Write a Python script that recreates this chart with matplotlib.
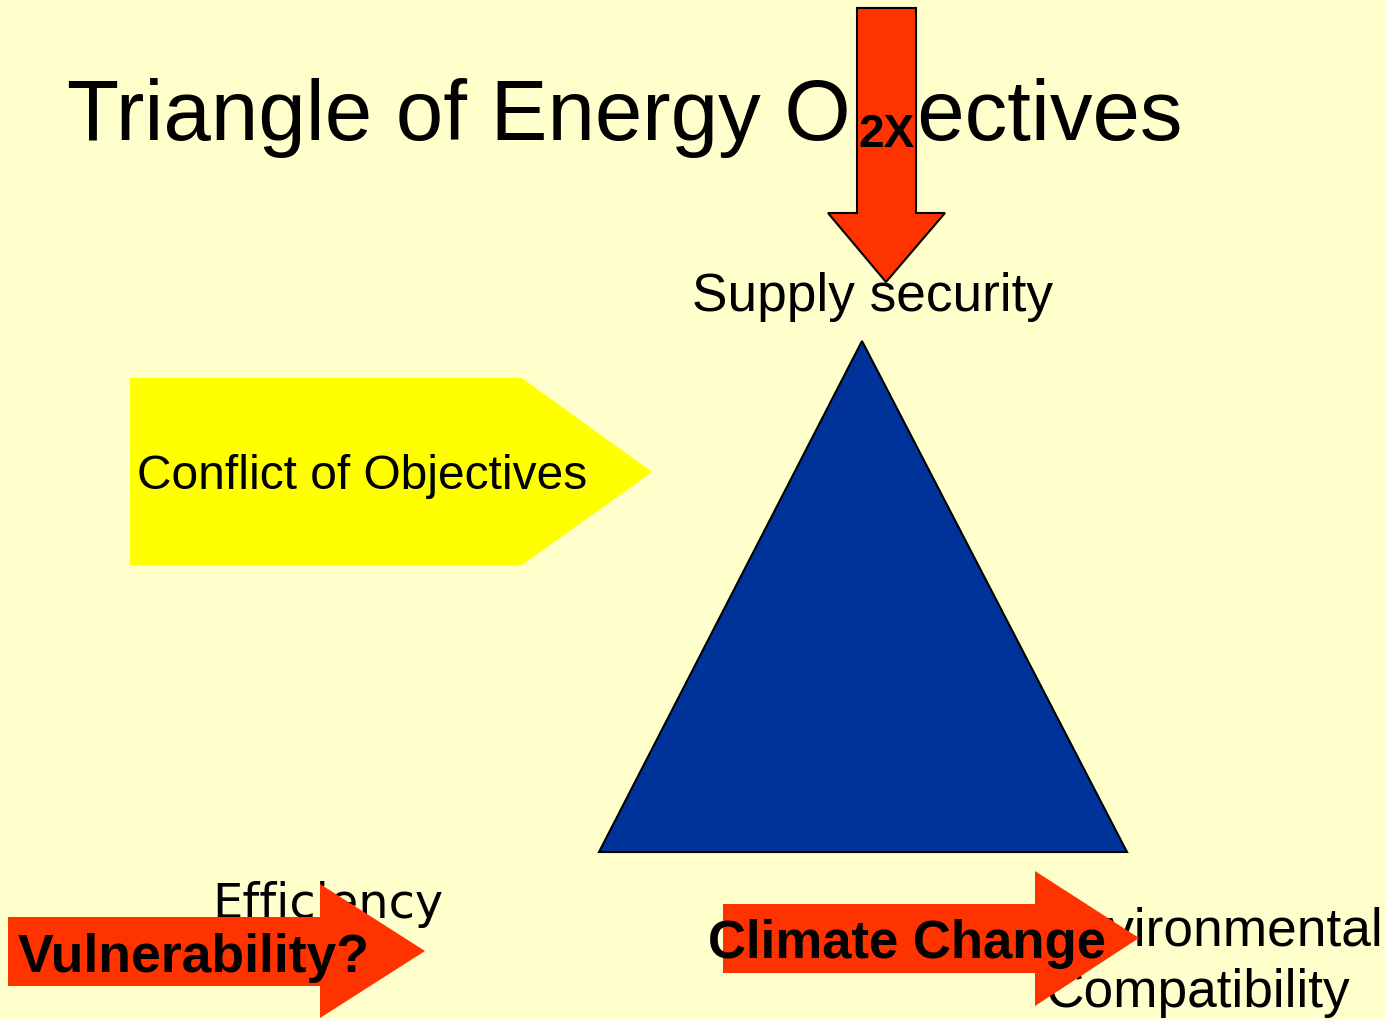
import matplotlib.pyplot as plt
from matplotlib.patches import Polygon

plt.rcParams['font.family'] = ['Liberation Sans', 'DejaVu Sans']

W, H = 1386, 1019

# shapes (slide pixel coordinates)
triangle = [(862, 341), (599, 852), (1127, 852)]
conflict_box = [(130, 378), (522, 378), (652, 472), (522, 565), (130, 565)]
arrow_down = [(857, 8), (916, 8), (916, 213), (945, 213), (886, 282),
              (828, 213), (857, 213)]
arrow_left = [(8, 917), (320, 917), (320, 884), (425, 951), (320, 1018),
              (320, 986), (8, 986)]
arrow_right = [(723, 904), (1035, 904), (1035, 871), (1139, 938),
               (1035, 1006), (1035, 973), (723, 973)]

bg = '#FFFFCC'
red = '#FF3300'

fig = plt.figure(figsize=(W / 100, H / 100), dpi=100)
fig.patch.set_facecolor(bg)
ax = fig.add_axes([0, 0, 1, 1])
ax.set_xlim(0, W)
ax.set_ylim(H, 0)
ax.axis('off')

# title and corner labels (under the arrows)
ax.text(67, 140, 'Triangle of Energy Objectives', fontsize=61.4, va='baseline',
        zorder=1)
ax.text(692, 311, 'Supply security', fontsize=38.3, va='baseline', zorder=1)
ax.text(212, 918, 'Efficiency', fontsize=34.5, family='DejaVu Sans',
        va='baseline', zorder=1)
ax.text(1043, 946, 'Environmental', fontsize=38.3, va='baseline', zorder=1)
ax.text(1045, 1007, 'Compatibility', fontsize=38.3, va='baseline', zorder=1)

ax.add_patch(Polygon(conflict_box, closed=True, fc='#FFFF00', ec='none',
                     zorder=2))
ax.text(137, 489, 'Conflict of Objectives', fontsize=34.5, va='baseline',
        zorder=3)

ax.add_patch(Polygon(triangle, closed=True, fc='#003399', ec='black', lw=1.5,
                     zorder=2))

ax.add_patch(Polygon(arrow_down, closed=True, fc=red, ec='black', lw=1.5,
                     zorder=4))
ax.text(887, 147, '2X', fontsize=33, fontweight='bold', ha='center',
        va='baseline', zorder=5)

ax.add_patch(Polygon(arrow_left, closed=True, fc=red, ec='none', zorder=4))
ax.text(18, 972, 'Vulnerability?', fontsize=38.5, fontweight='bold',
        va='baseline', zorder=5)

ax.add_patch(Polygon(arrow_right, closed=True, fc=red, ec='none', zorder=4))
ax.text(708, 958, 'Climate Change', fontsize=38, fontweight='bold',
        va='baseline', zorder=5)

plt.savefig('out.png', dpi=100, facecolor=bg)
